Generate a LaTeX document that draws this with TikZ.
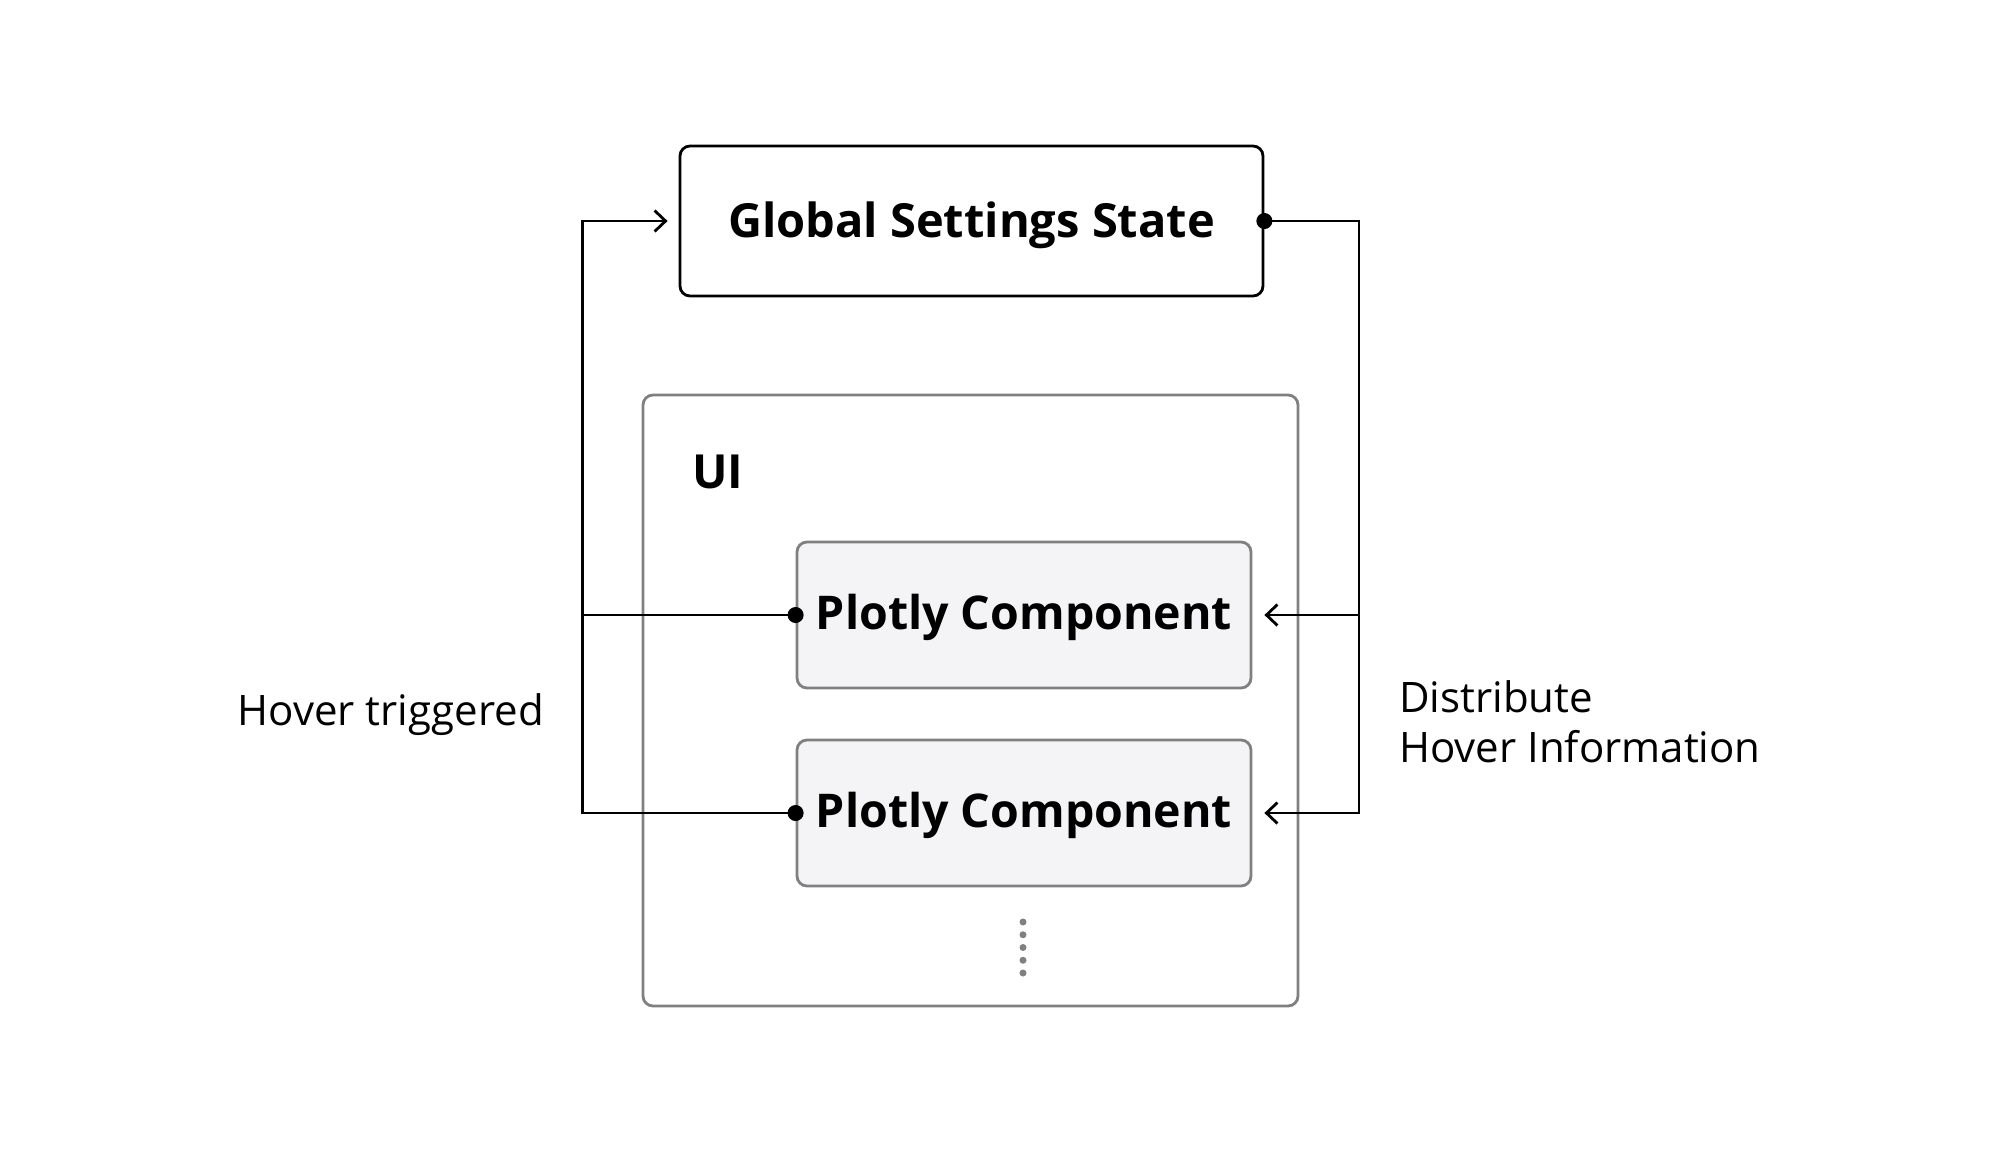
\documentclass[tikz,border=0pt]{standalone}
\usepackage{fontspec}
\setmainfont{Open Sans}
\usetikzlibrary{arrows.meta,positioning,calc}
\definecolor{boxgray}{HTML}{808080}
\definecolor{compfill}{HTML}{F4F4F6}
\tikzset{
  statebox/.style={draw=black, line width=2.8pt, rounded corners=10pt, minimum width=583pt, minimum height=150pt, inner sep=0pt, font=\fontsize{47}{55}\selectfont\bfseries},
  uibox/.style={draw=boxgray, line width=2.8pt, rounded corners=10pt, minimum width=655pt, minimum height=611pt, inner sep=0pt},
  compbox/.style={draw=boxgray, fill=compfill, line width=2.8pt, rounded corners=10pt, minimum width=454pt, minimum height=146pt, inner sep=0pt, font=\fontsize{46.5}{55}\selectfont\bfseries},
  conn/.style={line width=2.8pt, black},
  dotonly/.style={{Circle[length=16pt,width=16pt]}-, shorten <=-8pt},
  dotarrow/.style={{Circle[length=16pt,width=16pt]}-{Straight Barb[length=11pt,width=21pt,line width=2.8pt]}, shorten <=-8pt},
  openhead/.style={-{Straight Barb[length=11pt,width=21pt,line width=2.8pt]}},
  lbl/.style={font=\fontsize{42}{50}\selectfont, inner sep=0pt},
  vdot/.style={circle, fill=boxgray, inner sep=0pt, minimum size=7pt},
}
\newcommand{\lowertxt}[2]{\raisebox{-#1}[\height][\depth]{#2}}
\begin{document}
\begin{tikzpicture}[x=1pt,y=-1pt]
\useasboundingbox (0,0) rectangle (1989,1152);
\node[uibox] (ui) at (970.5,700.5) {};
\node[statebox] (gs) at (971.5,221) {\lowertxt{4pt}{Global Settings State}};
\node[compbox] (p1) at (1024,615) {\lowertxt{2.5pt}{Plotly Component}};
\node[compbox] (p2) at (1024,813) {\lowertxt{2.5pt}{Plotly Component}};
\node[anchor=base west, inner sep=0pt, font=\fontsize{47}{55}\selectfont\bfseries] (uilbl) at (692,488) {UI};
\foreach \i in {0,...,4} \node[vdot] (d\i) at (1023,{922+\i*12.75}) {};
\coordinate (Lt) at (582.5,221);
\coordinate (Lb) at (582.5,813);
\coordinate (Rt) at (1359,221);
\coordinate (Rb) at (1359,813);
% left feedback
\draw[conn, dotarrow, shorten >=11pt] (p2.west) -- (Lb) -- (Lt) -- (gs.west);
\draw[conn, dotonly] (p1.west) -- (p1.west -| Lb);
% right distribution
\draw[conn, dotarrow, shorten >=12pt] (gs.east) -- (Rt) -- (Rb) -- (p2.east);
\draw[conn, openhead, shorten >=12pt] (p1.east -| Rt) -- (p1.east);
\node[lbl, anchor=base east] (hov) at (544,725) {Hover triggered};
\node[lbl, anchor=base west] (dist) at (1399,712) {Distribute};
\node[lbl, anchor=base west] (dist2) at (1399,762) {Hover Information};
\end{tikzpicture}
\end{document}
